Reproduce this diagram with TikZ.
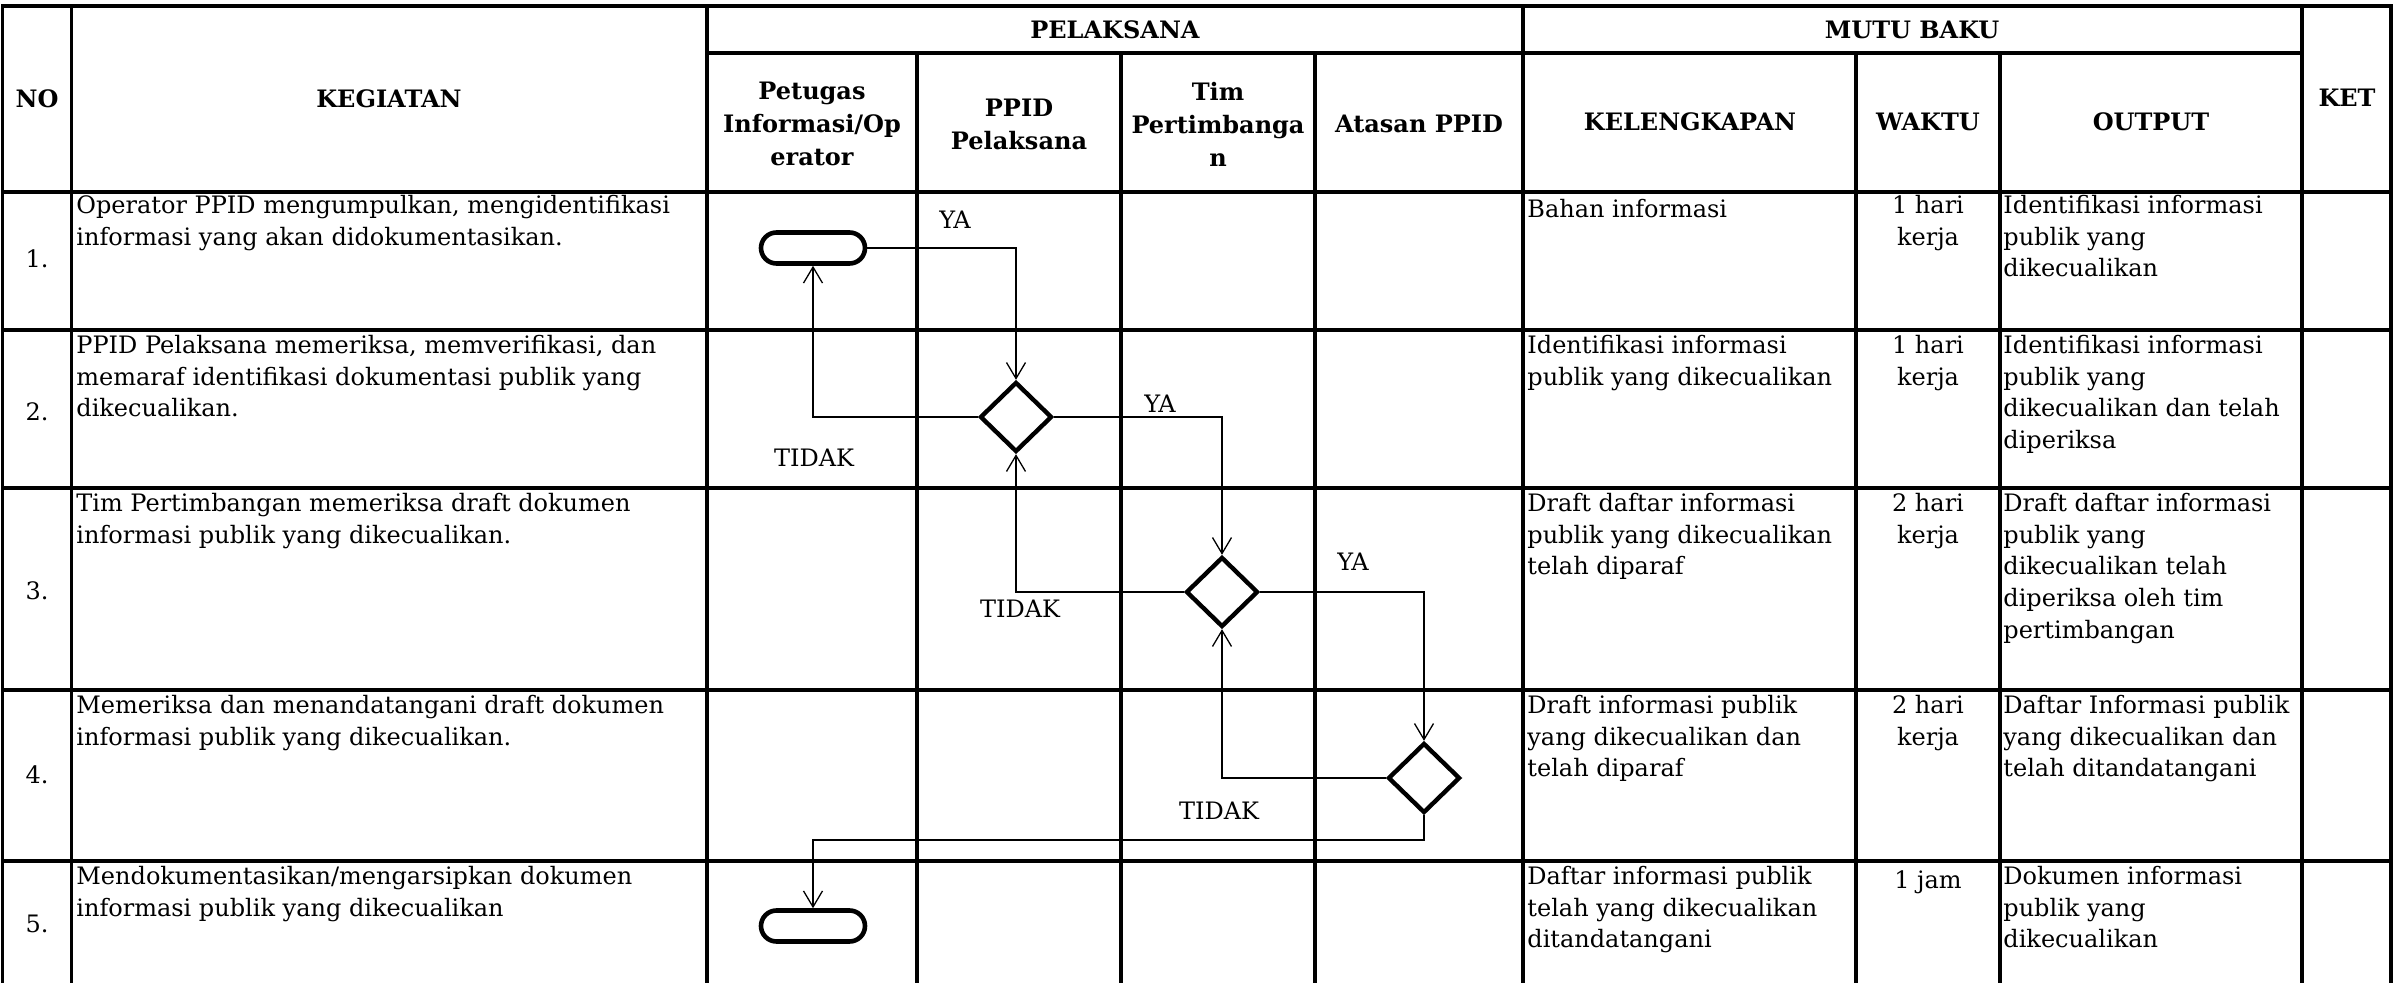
\documentclass[tikz,border=0pt]{standalone}
\usepackage{fontspec}
\setmainfont{DejaVu Serif}
\usetikzlibrary{arrows.meta,shapes.geometric,shapes.misc}
\begin{document}
\begin{tikzpicture}[x=0.5pt,y=-0.5pt,
  grid/.style={line width=1.6pt, line cap=rect},
  txt/.style={font=\fontsize{12}{15.8}\selectfont, inner sep=0pt, align=left, anchor=north west, execute at begin node=\strut},
  wk/.style={font=\fontsize{12}{15.8}\selectfont, inner sep=0pt, align=center, anchor=north, execute at begin node=\strut},
  hdr/.style={font=\fontsize{12}{16.5}\selectfont\bfseries, inner sep=0pt, align=center},
  num/.style={font=\fontsize{12}{15.8}\selectfont, inner sep=0pt},
  lbl/.style={font=\fontsize{12}{15.8}\selectfont, inner sep=0pt},
  term/.style={draw, line width=2.3pt, rounded rectangle, minimum width=52pt, minimum height=15.5pt, inner sep=0pt, fill=white},
  dec/.style={draw, line width=2.2pt, diamond, minimum width=36pt, minimum height=35pt, inner sep=0pt, fill=white},
  conn/.style={line width=0.65pt, -{Straight Barb[length=8pt,width=9.5pt]}},
]
\useasboundingbox (0,0) rectangle (2398,983);
% ---------- table grid ----------
\draw[grid] (2.5,6) -- (2391,6);
\draw[grid] (707,53) -- (2302,53);
\foreach \yy in {192,330,488,690,861}{\draw[grid] (2.5,\yy) -- (2391,\yy);}
\foreach \xx in {2.5,71.5,707,1523,2302,2391}{\draw[grid] (\xx,6) -- (\xx,990);}
\foreach \xx in {917,1121,1315,1856,2000}{\draw[grid] (\xx,53) -- (\xx,990);}
% ---------- header ----------
\node[hdr] (hNo) at (37,99) {NO};
\node[hdr] (hKeg) at (389,99) {KEGIATAN};
\node[hdr] (hPel) at (1115,30) {PELAKSANA};
\node[hdr] (hPet) at (812,124) {Petugas\\Informasi/Op\\erator};
\node[hdr] (hPP) at (1019,124) {PPID\\Pelaksana};
\node[hdr] (hTim) at (1218,124) {Tim\\Pertimbanga\\n};
\node[hdr] (hAt) at (1419,124) {Atasan PPID};
\node[hdr] (hMutu) at (1912,30) {MUTU BAKU};
\node[hdr] (hKel) at (1690,122) {KELENGKAPAN};
\node[hdr] (hWak) at (1928,122) {WAKTU};
\node[hdr] (hOut) at (2151,122) {OUTPUT};
\node[hdr] (hKet) at (2347,98) {KET};
% ---------- numbers ----------
\node[num] (n1) at (37,259) {1.};
\node[num] (n2) at (37,412) {2.};
\node[num] (n3) at (37,591) {3.};
\node[num] (n4) at (37,775) {4.};
\node[num] (n5) at (37,924) {5.};
% ---------- kegiatan ----------
\node[txt] (k1) at (76,195) {Operator PPID mengumpulkan, mengidentifikasi\\informasi yang akan didokumentasikan.};
\node[txt] (k2) at (76,335) {PPID Pelaksana memeriksa, memverifikasi, dan\\memaraf identifikasi dokumentasi publik yang\\dikecualikan.};
\node[txt] (k3) at (76,493) {Tim Pertimbangan memeriksa draft dokumen\\informasi publik yang dikecualikan.};
\node[txt] (k4) at (76,695) {Memeriksa dan menandatangani draft dokumen\\informasi publik yang dikecualikan.};
\node[txt] (k5) at (76,866) {Mendokumentasikan/mengarsipkan dokumen\\informasi publik yang dikecualikan};
% ---------- kelengkapan ----------
\node[txt] (l1) at (1527,195) {Bahan informasi};
\node[txt] (l2) at (1527,335) {Identifikasi informasi\\publik yang dikecualikan};
\node[txt] (l3) at (1527,493) {Draft daftar informasi\\publik yang dikecualikan\\telah diparaf};
\node[txt] (l4) at (1527,695) {Draft informasi publik\\yang dikecualikan dan\\telah diparaf};
\node[txt] (l5) at (1527,866) {Daftar informasi publik\\telah yang dikecualikan\\ditandatangani};
% ---------- waktu ----------
\node[wk] (w1) at (1928,195) {1 hari\\kerja};
\node[wk] (w2) at (1928,335) {1 hari\\kerja};
\node[wk] (w3) at (1928,493) {2 hari\\kerja};
\node[wk] (w4) at (1928,695) {2 hari\\kerja};
\node[wk] (w5) at (1928,866) {1 jam};
% ---------- output ----------
\node[txt] (o1) at (2003,195) {Identifikasi informasi\\publik yang\\dikecualikan};
\node[txt] (o2) at (2003,335) {Identifikasi informasi\\publik yang\\dikecualikan dan telah\\diperiksa};
\node[txt] (o3) at (2003,493) {Draft daftar informasi\\publik yang\\dikecualikan telah\\diperiksa oleh tim\\pertimbangan};
\node[txt] (o4) at (2003,695) {Daftar Informasi publik\\yang dikecualikan dan\\telah ditandatangani};
\node[txt] (o5) at (2003,866) {Dokumen informasi\\publik yang\\dikecualikan};
% ---------- flow ----------
\node[term] (T1) at (813,248) {};
\node[dec] (D1) at (1016,417) {};
\node[dec] (D2) at (1222,592) {};
\node[dec] (D3) at (1424,778) {};
\node[term] (T2) at (813,926) {};
\coordinate (c5) at (1424,840);
\draw[conn] (T1.east) -| (D1.north);
\draw[conn] (D1.west) -| (T1.south);
\draw[conn] (D1.east) -| (D2.north);
\draw[conn] (D2.west) -| (D1.south);
\draw[conn] (D2.east) -| (D3.north);
\draw[conn] (D3.west) -| (D2.south);
\draw[conn] (D3.south) -- (c5) -| (T2.north);
\node[lbl] (ya1) at (955,220) {YA};
\node[lbl] (td1) at (814,458) {TIDAK};
\node[lbl] (ya2) at (1160,404) {YA};
\node[lbl] (td2) at (1020,609) {TIDAK};
\node[lbl] (ya3) at (1353,562) {YA};
\node[lbl] (td3) at (1219,811) {TIDAK};
\end{tikzpicture}
\end{document}
